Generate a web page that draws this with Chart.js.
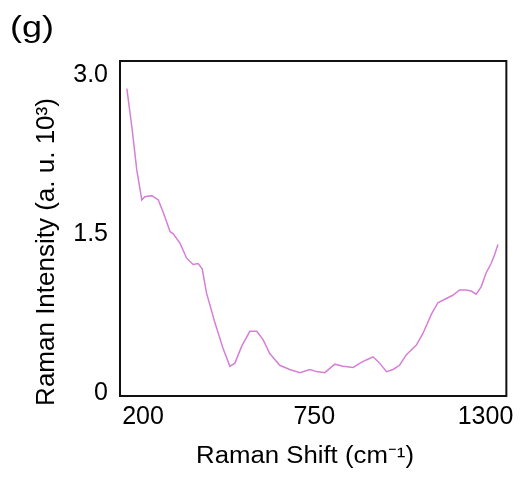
<!DOCTYPE html>
<html>
<head>
<meta charset="utf-8">
<script src="https://cdn.jsdelivr.net/npm/chart.js@4.4.1/dist/chart.umd.min.js"></script>
<style>
  html, body { margin: 0; padding: 0; background: #fff; }
</style>
</head>
<body>
<canvas id="myChart" width="520" height="477"></canvas>
<script>
// values
var ramanShift = [148, 164, 180, 196, 206, 228, 249, 265, 287, 297, 319, 340, 361, 377, 390,
  404, 431, 458, 479, 495, 517, 543, 565, 586, 607, 639, 671, 704, 736, 757, 784, 816, 842,
  875, 897, 917, 939, 960, 982, 1003, 1024, 1046, 1078, 1099, 1126, 1147, 1174, 1195, 1217,
  1238, 1254, 1270, 1286, 1302, 1318, 1329, 1340];
var intensity = [2.87, 2.51, 2.10, 1.82, 1.85, 1.86, 1.82, 1.70, 1.52, 1.50, 1.41, 1.27, 1.21, 1.22, 1.17,
  0.94, 0.66, 0.41, 0.25, 0.28, 0.44, 0.58, 0.58, 0.50, 0.37, 0.26, 0.22, 0.19, 0.22, 0.20, 0.19, 0.27, 0.25,
  0.24, 0.28, 0.31, 0.34, 0.28, 0.20, 0.22, 0.26, 0.36, 0.45, 0.56, 0.74, 0.85, 0.89, 0.92, 0.97,
  0.97, 0.96, 0.93, 1.00, 1.13, 1.22, 1.30, 1.40];
var xTicks = [200, 750, 1300];
var yTicks = [0, 1.5, 3.0];
var yTickLabels = ['0', '1.5', '3.0'];
var panelLabel = '(g)';
var xTitle = 'Raman Shift (cm\u207B\u00B9)';
var yTitle = 'Raman Intensity (a. u. 10\u00B3)';

var textColor = '#000';
var fontFamily = '"Liberation Sans", Arial, sans-serif';

var points = [];
for (var i = 0; i < ramanShift.length; i++) {
  points.push({x: ramanShift[i], y: intensity[i]});
}

// box round the plot area
var framePlugin = {
  id: 'frame',
  afterDraw: function(chart) {
    var a = chart.chartArea;
    var ctx = chart.ctx;
    ctx.save();
    ctx.strokeStyle = '#111';
    ctx.lineWidth = 2;
    ctx.strokeRect(a.left, a.top, a.right - a.left, a.bottom - a.top);
    ctx.restore();
  }
};

// panel letter and axis titles (the original lettering is a bit wide, hence the x scale)
var labelPlugin = {
  id: 'labels',
  afterDraw: function(chart) {
    var ctx = chart.ctx;
    ctx.save();
    ctx.fillStyle = textColor;
    ctx.textBaseline = 'middle';

    ctx.save();
    ctx.translate(10, 29);
    ctx.scale(1.2, 1);
    ctx.textAlign = 'left';
    ctx.font = '30px ' + fontFamily;
    ctx.fillText(panelLabel, 0, 0);
    ctx.restore();

    ctx.save();
    ctx.translate(305, 457);
    ctx.scale(1.12, 1);
    ctx.textAlign = 'center';
    ctx.font = '23px ' + fontFamily;
    ctx.fillText(xTitle, 0, 0);
    ctx.restore();

    ctx.translate(47, 252);
    ctx.rotate(-Math.PI / 2);
    ctx.textAlign = 'center';
    ctx.font = '26px ' + fontFamily;
    ctx.fillText(yTitle, 0, 0);
    ctx.restore();
  }
};

var ctx = document.getElementById('myChart').getContext('2d');
var chart = new Chart(ctx, {
  type: 'line',
  data: {
    datasets: [{
      label: 'Raman',
      data: points,
      borderColor: '#d67fd6',
      borderWidth: 1.5,
      pointRadius: 0,
      tension: 0,
      fill: false
    }]
  },
  options: {
    responsive: false,
    animation: false,
    devicePixelRatio: 1,
    events: [],
    layout: { padding: { top: 61, right: 13, left: 0, bottom: 0 } },
    plugins: {
      legend: { display: false },
      tooltip: { enabled: false },
      title: { display: false }
    },
    scales: {
      x: {
        type: 'linear',
        min: 126,
        max: 1367,
        grid: { display: false, drawTicks: false },
        border: { display: false },
        afterBuildTicks: function(scale) {
          scale.ticks = xTicks.map(function(v) { return {value: v}; });
        },
        afterFit: function(scale) { scale.height = 81; },
        ticks: {
          autoSkip: false,
          maxRotation: 0,
          padding: 6,
          color: textColor,
          font: { size: 25, family: fontFamily },
          callback: function(v) { return String(v); }
        }
      },
      y: {
        min: -0.03,
        max: 3.13,
        grid: { display: false, drawTicks: false },
        border: { display: false },
        afterBuildTicks: function(scale) {
          scale.ticks = yTicks.map(function(v) { return {value: v}; });
        },
        afterFit: function(scale) { scale.width = 120; },
        ticks: {
          autoSkip: false,
          padding: 12,
          color: textColor,
          font: { size: 25, family: fontFamily },
          callback: function(v) { return yTickLabels[yTicks.indexOf(v)]; }
        }
      }
    }
  },
  plugins: [framePlugin, labelPlugin]
});
</script>
</body>
</html>
